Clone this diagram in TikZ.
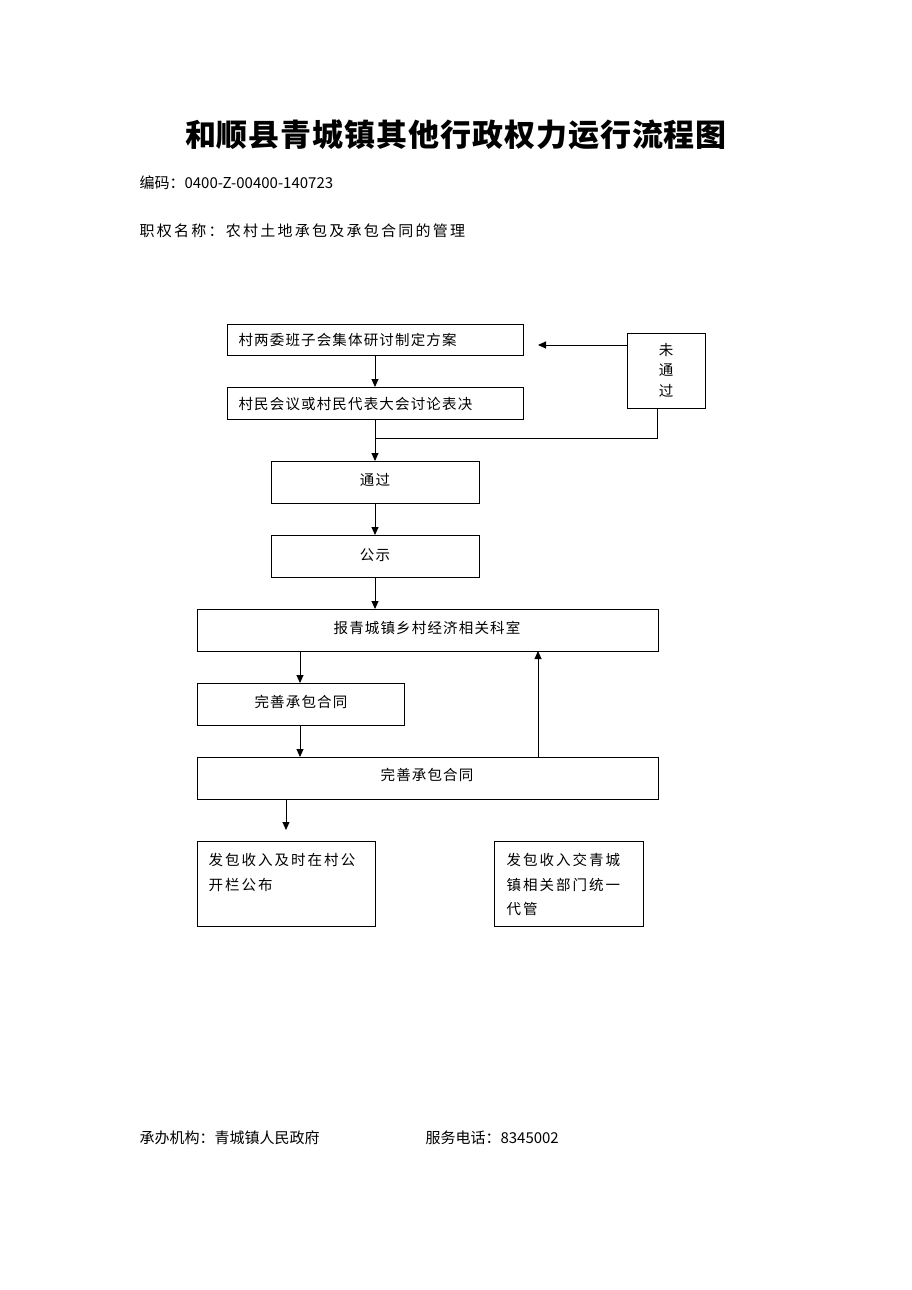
\documentclass[tikz,border=0pt]{standalone}
\usepackage{fontspec}
\setmainfont{Noto Sans CJK SC}
\usetikzlibrary{arrows.meta}
\begin{document}
\begin{tikzpicture}[x=1pt,y=-1pt,
  bx/.style={draw,line width=0.9pt,fill=none},
  tx/.style={font=\fontsize{14.5}{14.5}\selectfont\addfontfeature{LetterSpace=8}},
  tw/.style={font=\fontsize{14.5}{14.5}\selectfont\addfontfeature{LetterSpace=14}},
  arr/.style={-{Triangle[length=8pt,width=7pt]},line width=0.9pt},
  ln/.style={line width=0.9pt}]
\useasboundingbox (0,0) rectangle (912,1290);
\node[font=\fontsize{31}{31}\selectfont\bfseries\addfontfeature{LetterSpace=3}] (title) at (456,135) {和顺县青城镇其他行政权力运行流程图};
\node[anchor=west,font=\fontsize{15}{15}\selectfont] (code) at (136,183) {编码：0400-Z-00400-140723};
\node[anchor=west,font=\fontsize{15}{15}\selectfont\addfontfeature{LetterSpace=15}] (name) at (136,231) {职权名称：农村土地承包及承包合同的管理};
% boxes
\draw[bx] (227,324) rectangle (523,355);
\node[tx,anchor=west] (b1) at (235,340) {村两委班子会集体研讨制定方案};
\draw[bx] (227,387) rectangle (523,419);
\node[tx,anchor=west] (b2) at (235,404) {村民会议或村民代表大会讨论表决};
\draw[bx] (627,333) rectangle (705,408);
\node[tx,align=center] (nb) at (666,370) {未\\[6pt]通\\[6pt]过};
\draw[bx] (271,461) rectangle (479,503);
\node[tx] (b3) at (375,480) {通过};
\draw[bx] (271,535) rectangle (479,577);
\node[tx] (b4) at (375,555) {公示};
\draw[bx] (197,609) rectangle (658,651);
\node[tx] (b5) at (427,628) {报青城镇乡村经济相关科室};
\draw[bx] (197,683) rectangle (404,725);
\node[tx] (b6) at (301,702) {完善承包合同};
\draw[bx] (197,757) rectangle (658,799);
\node[tx] (b7) at (427,775) {完善承包合同};
\draw[bx] (197,841) rectangle (375,926);
\node[tw,anchor=north west,align=left] (b8) at (205,850) {发包收入及时在村公\\[10pt]开栏公布};
\draw[bx] (494,841) rectangle (643,926);
\node[tw,anchor=north west,align=left] (b9) at (503,850) {发包收入交青城\\[10pt]镇相关部门统一\\[10pt]代管};
% connectors
\coordinate (p1) at (538,345);
\draw[arr] (627,345) -- (p1);
\draw[arr] (375,355) -- (375,387);
\draw[arr] (375,419) -- (375,461);
\draw[ln] (657,408) -- (657,438) -- (375,438);
\draw[arr] (375,503) -- (375,535);
\draw[arr] (375,577) -- (375,609);
\draw[arr] (300,651) -- (300,683);
\draw[arr] (300,725) -- (300,757);
\draw[arr] (538,757) -- (538,651);
\coordinate (p2) at (286,830);
\draw[arr] (286,799) -- (p2);
\node[anchor=west,font=\fontsize{15}{15}\selectfont] (org) at (136,1138) {承办机构：青城镇人民政府};
\node[anchor=west,font=\fontsize{15}{15}\selectfont] (tel) at (422,1138) {服务电话：8345002};
\end{tikzpicture}
\end{document}
